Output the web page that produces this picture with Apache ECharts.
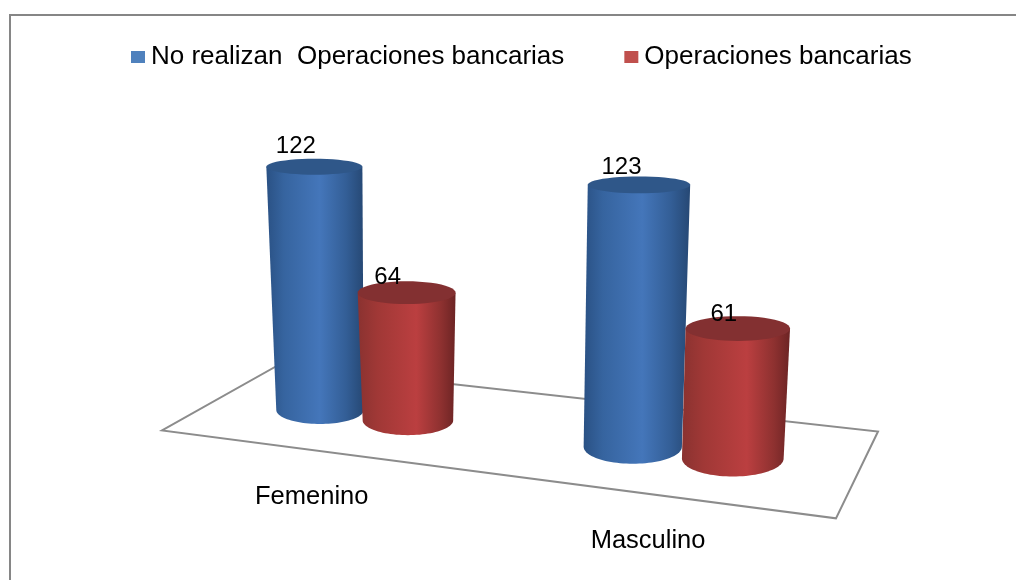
<!DOCTYPE html>
<html><head><meta charset="utf-8">
<style>html,body{margin:0;padding:0;background:#fff}#c{width:1016px;height:580px}</style>
<script src="https://cdn.jsdelivr.net/npm/echarts@6/dist/echarts.min.js"></script>
</head><body><div id="c"></div>
<script>
// ---- data ----
const categories = ['Femenino', 'Masculino'];
const seriesNames = ['No realizan  Operaciones bancarias', 'Operaciones bancarias'];
const noRealizan = [122, 123];
const operaciones = [64, 61];

// ---- perspective layout, in axis units ----
const floorU = [[0.157, 0.648], [0.295, 0.805]];   // position of each cylinder along the floor
const depthScale = [0.976, 1.042];                 // height foreshortening per category
const floorTilt = -36.6;
const floorShift = -1;
const floorCorners = [[0.0926, 15.4], [1.033, -17.3], [0.967, -59.8], [-0.091, -16.8]];
const categoryAnchors = [[0.144, -49.5], [0.672, -71]];
const labelOffsets = [[[-18.5, -20], [-19, -15]], [[-17.5, -17], [-14, -14]]];

const blueStops = [[0, '#2a5184'], [0.18, '#36649f'], [0.55, '#4476ba'], [0.82, '#335e96'], [1, '#264874']];
const redStops = [[0, '#8a3230'], [0.2, '#a03836'], [0.6, '#bb3f40'], [0.85, '#8e3130'], [1, '#6c2424']];
const capColors = ['#2f5789', '#833031'];
const FONT = '"Liberation Sans", Arial, sans-serif';

function arc(cx, cy, rx, ry, a0, a1) {
  const pts = [];
  const n = 48;
  for (let i = 0; i <= n; i++) {
    const a = a0 + (a1 - a0) * i / n;
    pts.push([cx + rx * Math.cos(a), cy + ry * Math.sin(a)]);
  }
  return pts;
}

function cylinder(s) {
  return function (params, api) {
    const c = params.dataIndex;
    const value = api.value(1);
    const u = floorU[s][c];
    const base = api.coord([u, floorShift + floorTilt * u]);
    const h = api.size([0, value])[1] * depthScale[c];
    const xb = base[0], yb = base[1];
    const xt = xb + h * 0.00015 * (xb - 475);
    const yt = yb - h;
    const rb = 42 + 11 * u, rt = 47 + 6.5 * u;
    const ryb = 14 + (yb - 410) * 0.085;
    const ryt = 8 + (yt - 167) * 0.0272;
    // lower rim runs from the left side through the front to the right side
    const pts = [[xt - rt, yt]].concat(arc(xb, yb, rb, ryb, Math.PI, 0), [[xt + rt, yt]]);
    return {
      type: 'group',
      children: [
        { type: 'polygon', shape: { points: pts },
          style: { fill: new echarts.graphic.LinearGradient(0, 0, 1, 0,
            (s === 0 ? blueStops : redStops).map(p => ({ offset: p[0], color: p[1] }))) } },
        { type: 'polygon', shape: { points: arc(xt, yt, rt, ryt, 0, Math.PI * 2) },
          style: { fill: capColors[s] } },
        { type: 'text', z2: 10,
          style: { text: String(value), x: xt + labelOffsets[c][s][0], y: yt + labelOffsets[c][s][1],
            align: 'center', verticalAlign: 'middle', fill: '#000', font: '24px ' + FONT } }
      ]
    };
  };
}

const chart = echarts.init(document.getElementById('c'), null, { renderer: 'canvas' });
chart.setOption({
  animation: false,
  backgroundColor: '#fff',
  graphic: [{ type: 'polyline', shape: { points: [[10, 580], [10, 15], [1016, 15]] }, silent: true,
    style: { fill: 'none', stroke: '#868686', lineWidth: 2 }, z: -1 }],
  legend: {
    left: 126, top: 39, itemWidth: 14, itemHeight: 12, itemGap: 60, icon: 'rect',
    data: seriesNames,
    textStyle: { fontFamily: FONT, fontSize: 26, color: '#000', padding: [0, 0, 0, 1] }
  },
  grid: { left: 92.6, top: 28.5, width: 891.8, height: 553.5 },
  xAxis: { type: 'value', min: -0.2, max: 1.2, show: false },
  yAxis: { type: 'value', min: -90, max: 180, show: false },
  series: [
    { type: 'custom', name: 'floor', coordinateSystem: 'cartesian2d', silent: true, z: 1,
      data: floorCorners,
      renderItem: function (params, api) {
        if (params.dataIndex !== 0) return;
        return { type: 'polygon', shape: { points: floorCorners.map(p => api.coord(p)) },
          style: { fill: 'none', stroke: '#8c8c8c', lineWidth: 2 } };
      } },
    { type: 'custom', name: seriesNames[0], z: 2, itemStyle: { color: '#4f81bd' },
      data: noRealizan.map((v, i) => [i, v]), renderItem: cylinder(0) },
    { type: 'custom', name: seriesNames[1], z: 3, itemStyle: { color: '#c0504d' },
      data: operaciones.map((v, i) => [i, v]), renderItem: cylinder(1) },
    { type: 'custom', name: 'categories', silent: true, z: 4,
      data: categoryAnchors,
      renderItem: function (params, api) {
        const p = api.coord(categoryAnchors[params.dataIndex]);
        return { type: 'text', style: { text: categories[params.dataIndex], x: p[0], y: p[1],
          align: 'center', verticalAlign: 'middle', fill: '#000', font: '25.5px ' + FONT } };
      } }
  ]
});
</script></body></html>
